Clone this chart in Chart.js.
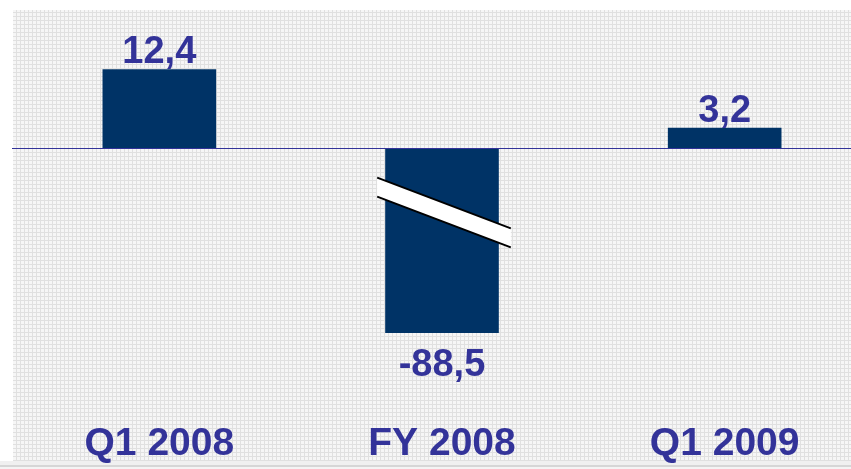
<!DOCTYPE html>
<html>
<head>
<meta charset="utf-8">
<script src="https://cdn.jsdelivr.net/npm/chart.js@4.4.1/dist/chart.umd.min.js"></script>
<style>
  html, body { margin: 0; padding: 0; background: #fff; overflow: hidden; }
  /* canvas is a bit bigger than the window so the columns land where they should */
  #wrap { position: relative; width: 866px; height: 486px; }
</style>
</head>
<body>
<div id="wrap"><canvas id="chart"></canvas></div>
<script>
// --- data ---
const periods = ['Q1 2008', 'FY 2008', 'Q1 2009'];
const results = [12.4, -88.5, 3.2];

// the axis is broken below this value, longer bars get cut with a break mark
const BREAK_AT = -29;
const Y_MIN = -40;
const Y_MAX = 21.7;

const BAR_COLOR = '#003366';
const TEXT_COLOR = '#333399';
const FONT = '"Liberation Sans", Arial, sans-serif';

// values as drawn (clipped at the break)
const plotted = results.map(v => Math.max(v, BREAK_AT));

// Helper: 1,5 style decimals
const fmt = (v) => v.toFixed(1).replace('.', ',');

// light grid texture used behind the chart
const makePattern = (ctx) => {
    const p = document.createElement('canvas');
    p.width = 4; p.height = 4;
    const pc = p.getContext('2d');
    pc.fillStyle = '#f6f6f6';
    pc.fillRect(0, 0, 4, 4);
    pc.fillStyle = '#e0e0e0';
    pc.fillRect(0, 0, 4, 1);
    pc.fillRect(0, 0, 1, 4);
    return ctx.createPattern(p, 'repeat');
};

const backdrop = {
    id: 'backdrop',
    beforeDraw(chart) {
        const ctx = chart.ctx;
        ctx.save();
        ctx.fillStyle = '#ffffff';
        ctx.fillRect(0, 0, chart.width, chart.height);
        ctx.fillStyle = makePattern(ctx);
        ctx.fillRect(13, 10, chart.width - 13, 451);
        // bottom edge: pale band, thin gray rule, then near white
        ctx.fillStyle = '#f0f0f0';
        ctx.fillRect(0, 461, chart.width, 4);
        ctx.fillStyle = '#d6d6d6';
        ctx.fillRect(0, 465, chart.width, 2);
        ctx.fillStyle = '#f4f4f4';
        ctx.fillRect(0, 467, chart.width, 30);
        ctx.restore();
    }
};

const zeroLine = {
    id: 'zeroLine',
    afterDatasetsDraw(chart) {
        const ctx = chart.ctx;
        const y0 = Math.round(chart.scales.y.getPixelForValue(0)) + 0.5;
        ctx.save();
        ctx.strokeStyle = TEXT_COLOR;
        ctx.lineWidth = 1;
        ctx.beginPath();
        ctx.moveTo(12, y0);
        ctx.lineTo(chart.width, y0);
        ctx.stroke();
        ctx.restore();
    }
};

// break mark + value labels
const barLabels = {
    id: 'barLabels',
    afterDraw(chart) {
        const ctx = chart.ctx;
        const meta = chart.getDatasetMeta(0);
        const y0 = chart.scales.y.getPixelForValue(0);
        ctx.save();
        meta.data.forEach((bar, i) => {
            const v = results[i];
            const half = bar.width / 2;

            if (v < BREAK_AT) {
                const slope = 0.38;
                const x1 = bar.x - half - 8, x2 = bar.x + half + 12;
                const yc = y0 + 54;
                const yAt = (x) => yc + slope * (x - bar.x);
                const gap = 19;
                ctx.fillStyle = '#ffffff';
                ctx.beginPath();
                ctx.moveTo(x1, yAt(x1));
                ctx.lineTo(x2, yAt(x2));
                ctx.lineTo(x2, yAt(x2) + gap);
                ctx.lineTo(x1, yAt(x1) + gap);
                ctx.closePath();
                ctx.fill();
                ctx.strokeStyle = '#000000';
                ctx.lineWidth = 2;
                ctx.beginPath();
                ctx.moveTo(x1, yAt(x1));
                ctx.lineTo(x2, yAt(x2));
                ctx.moveTo(x1, yAt(x1) + gap);
                ctx.lineTo(x2, yAt(x2) + gap);
                ctx.stroke();
            }

            ctx.fillStyle = TEXT_COLOR;
            ctx.font = 'bold 38px ' + FONT;
            ctx.textAlign = 'center';
            ctx.textBaseline = 'alphabetic';
            // bar.y is the value end of the bar, above or below zero
            if (v >= 0) {
                ctx.fillText(fmt(v), bar.x, bar.y - 6);
            } else {
                ctx.fillText(fmt(v), bar.x, bar.y + 43);
            }
        });
        ctx.restore();
    }
};

new Chart(document.getElementById('chart'), {
    type: 'bar',
    data: {
        labels: periods,
        datasets: [{
            data: plotted,
            backgroundColor: BAR_COLOR,
            borderWidth: 0,
            barPercentage: 1,
            categoryPercentage: 0.402
        }]
    },
    options: {
        responsive: true,
        maintainAspectRatio: false,
        animation: false,
        layout: { padding: { left: 18, right: 0, top: 10, bottom: 0 } },
        plugins: {
            legend: { display: false },
            tooltip: { enabled: false }
        },
        scales: {
            y: {
                display: false,
                min: Y_MIN,
                max: Y_MAX
            },
            x: {
                grid: { display: false, drawTicks: false },
                border: { display: false },
                ticks: {
                    color: TEXT_COLOR,
                    padding: 22,
                    maxRotation: 0,
                    font: { family: FONT, size: 39, weight: 'bold', lineHeight: 1 }
                }
            }
        }
    },
    plugins: [backdrop, zeroLine, barLabels]
});
</script>
</body>
</html>
